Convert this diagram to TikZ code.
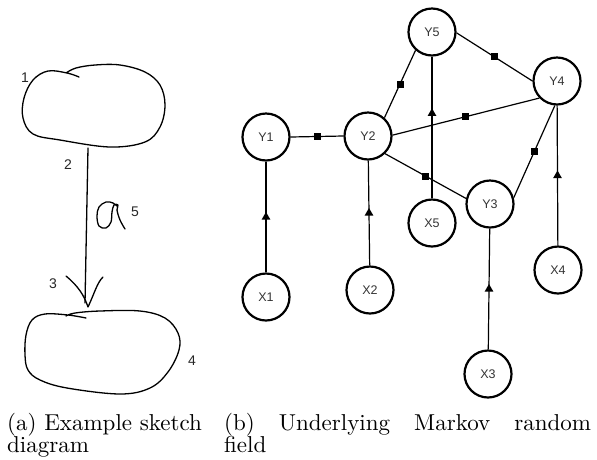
\documentclass[tikz,border=0pt]{standalone}
\usepackage{fontspec}
\newfontfamily\arialfont{Liberation Sans}
\usetikzlibrary{shapes.geometric}
\begin{document}
\begin{tikzpicture}[x=1pt,y=-1pt,
  rv/.style={circle, draw, line width=2.2pt, minimum size=47pt, inner sep=0pt,
    font=\arialfont\fontsize{12.5}{12.5}\selectfont, text=black!80},
  edge/.style={line width=1.2pt},
  sq/.style={rectangle, fill=black, minimum size=7pt, inner sep=0pt},
  tri/.style={regular polygon, regular polygon sides=3, fill=black, minimum size=10pt, inner sep=0pt},
  sketch/.style={line width=1.3pt, line cap=round, line join=round},
  lbl/.style={font=\arialfont\fontsize{14}{14}\selectfont, inner sep=0pt, text=black!85},
  captxt/.style={inner sep=0pt, anchor=base west},
]
\useasboundingbox (0,0) rectangle (597,459);

% ---------- (a) sketch ----------
\draw[sketch] plot[smooth, tension=0.6] coordinates {(79,77) (67,73) (48,71) (33,80) (24,98) (23,118) (33,134) (60,140) (110,147) (145,142) (160,127) (165,105) (160,85) (145,72) (120,65) (95,65) (76,68) (66,73)};
\draw[sketch] plot[smooth, tension=0.6] coordinates {(86,318) (68,315) (45,314) (32,320) (26,335) (25,355) (28,370) (40,380) (67,388) (120,394) (150,388) (168,372) (179,350) (178,333) (165,318) (140,311) (100,311) (75,313) (66,316)};
\coordinate (ltop) at (88,148);
\coordinate (lbot) at (85,303);
\coordinate (tip) at (88,307);
\draw[sketch] (ltop) -- (lbot);
\draw[sketch] (66,276) .. controls (78,286) and (84,295) .. (tip) .. controls (95,292) and (97,283) .. (103,277);
\draw[sketch] plot[smooth, tension=0.6] coordinates {(125,229) (120,220) (117,210) (118,205) (114,205) (112,212) (111,222) (106,228) (99,226) (97,216) (99,207) (106,202) (113,203) (118,207)};

\node[lbl] (n1) at (25,78) {1};
\node[lbl] (n2) at (68,165) {2};
\node[lbl] (n3) at (53,284) {3};
\node[lbl] (n5) at (135,212) {5};
\node[lbl] (n4) at (192,361) {4};

% ---------- (b) MRF ----------
\node[rv] (Y5) at (432,32) {Y5};
\node[rv] (Y4) at (557,81) {Y4};
\node[rv] (Y1) at (266,137) {Y1};
\node[rv] (Y2) at (368,136) {Y2};
\node[rv] (Y3) at (490,204) {Y3};
\node[rv] (X5) at (432,223) {X5};
\node[rv] (X4) at (558,270) {X4};
\node[rv] (X1) at (266,297) {X1};
\node[rv] (X2) at (370,290) {X2};
\node[rv] (X3) at (488,374) {X3};

\draw[edge] (Y1.east) -- node[sq, midway]{} (Y2.west);
\draw[edge] (Y2.48) -- node[sq, midway]{} (Y5.-132);
\draw[edge] (Y5.-2) -- node[sq, midway]{} (Y4.180);
\draw[edge] (Y2.2) -- node[sq, midway]{} (Y4.-136);
\draw[edge] (Y2.-46) -- node[sq, midway]{} (Y3.167);
\draw[edge] (Y3.15) -- node[sq, midway]{} (Y4.-95);

\draw[edge] (X1) -- node[tri, midway]{} (Y1);
\draw[edge] (X2) -- node[tri, midway]{} (Y2);
\draw[edge] (X5) -- node[tri, pos=0.6]{} (Y5);
\draw[edge] (X4) -- node[tri, midway]{} (Y4);
\draw[edge] (X3) -- node[tri, midway]{} (Y3);

% ---------- captions ----------
\node[captxt] (capa1) at (7,430) {\scalebox{2.3}{(a) Example sketch}};
\node[captxt] (capa2) at (7,452) {\scalebox{2.3}{diagram}};
\node[captxt] (capb1) at (224,430) {\scalebox{2.3}{\makebox[159.5pt][s]{(b) Underlying Markov random}}};
\node[captxt] (capb2) at (224,452) {\scalebox{2.3}{field}};
\end{tikzpicture}
\end{document}
